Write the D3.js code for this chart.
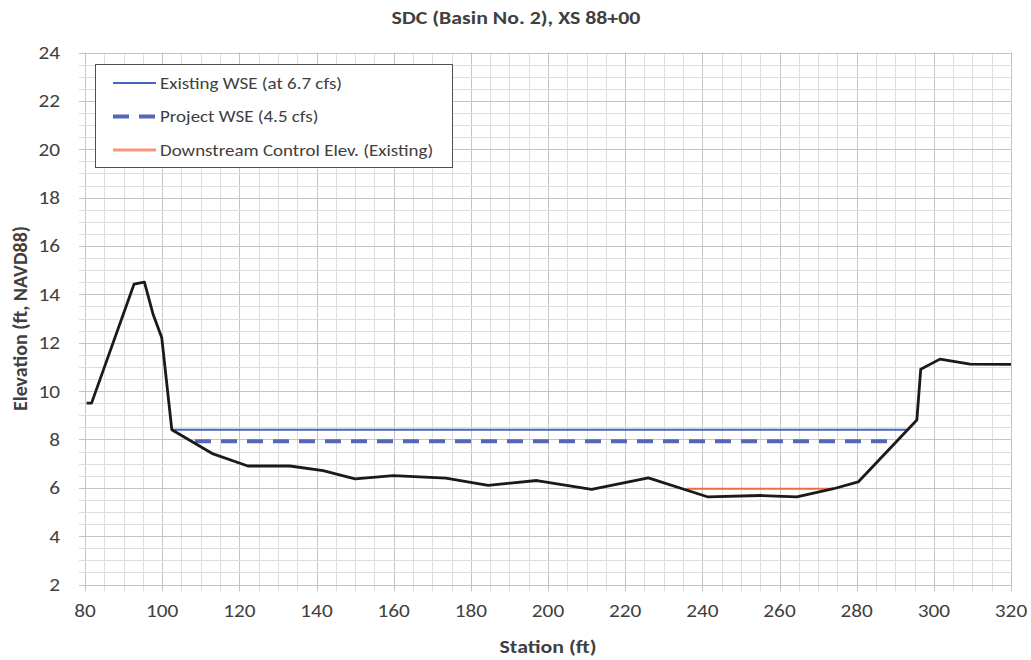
<!DOCTYPE html>
<html>
<head>
<meta charset="utf-8">
<script src="https://cdn.jsdelivr.net/npm/d3@7"></script>
<style>
  body { margin: 0; background: #fff; }
  svg text { font-family: Carlito, "Liberation Sans Narrow", "DejaVu Sans Condensed", "Liberation Sans", sans-serif; fill: #404040; }
</style>
</head>
<body>
<div id="chart"></div>
<script>
// ground profile
var groundStation = [80.4, 81.7, 92.7, 95.4, 97.6, 99.9, 102.5, 113.2, 122.2, 133.1, 141.7, 150.0, 159.9, 173.5, 184.5, 197.1, 211.3, 226.0, 241.5, 255.0, 264.5, 274.0, 280.4, 295.6, 296.6, 301.6, 309.4, 320.0];
var groundElev = [9.5, 9.5, 14.42, 14.5, 13.2, 12.2, 8.4, 7.4, 6.9, 6.9, 6.71, 6.37, 6.5, 6.4, 6.1, 6.3, 5.93, 6.41, 5.62, 5.68, 5.62, 5.96, 6.24, 8.8, 10.9, 11.32, 11.11, 11.1];

// water surface lines
var existingStation = [102.5, 293.0];
var existingElev = [8.4, 8.4];
var projectStation = [108.5, 288.6];
var projectElev = [7.92, 7.92];
var controlStation = [235.9, 273.8];
var controlElev = [5.96, 5.96];

var xTicks = [80, 100, 120, 140, 160, 180, 200, 220, 240, 260, 280, 300, 320];
var yTicks = [2, 4, 6, 8, 10, 12, 14, 16, 18, 20, 22, 24];

var legendLabels = ["Existing WSE (at 6.7 cfs)", "Project WSE (4.5 cfs)", "Downstream Control Elev. (Existing)"];

var W = 1031, H = 660;
var margin = { top: 52.5, right: 20, bottom: 76, left: 85 };
var stretch = 1.15; // the text in the picture is a bit wide

var svg = d3.select("#chart").append("svg")
  .attr("width", W)
  .attr("height", H);

var x = d3.scaleLinear().domain([80, 320]).range([margin.left, 1011]);
var y = d3.scaleLinear().domain([2, 24]).range([584.5, margin.top]);

// text helper, widened a little
function addText(parent, tx, ty, anchor, size, bold, str) {
  var t = parent.append("g")
    .attr("transform", "translate(" + tx + "," + ty + ") scale(" + stretch + ",1)")
    .append("text")
    .attr("text-anchor", anchor)
    .style("font-size", size + "px")
    .text(str);
  if (bold) t.style("font-weight", "bold");
  return t;
}

// grid
var g = svg.append("g");
g.selectAll("line.vminor")
  .data(d3.range(80, 320.1, 5))
  .enter().append("line")
  .attr("x1", function (d) { return Math.round(x(d)) + 0.5; })
  .attr("x2", function (d) { return Math.round(x(d)) + 0.5; })
  .attr("y1", y(24))
  .attr("y2", y(2) + 7)
  .attr("stroke", function (d) { return d % 20 === 0 ? "#c4c4c4" : "#dedede"; })
  .attr("stroke-width", 1);

g.selectAll("line.hminor")
  .data(d3.range(2, 24.01, 0.5))
  .enter().append("line")
  .attr("x1", x(80) - 6)
  .attr("x2", x(320))
  .attr("y1", function (d) { return Math.round(y(d)) + 0.5; })
  .attr("y2", function (d) { return Math.round(y(d)) + 0.5; })
  .attr("stroke", function (d) { return d % 2 === 0 ? "#c4c4c4" : "#dedede"; })
  .attr("stroke-width", 1);

// tick labels
var yl = svg.append("g");
yTicks.forEach(function (d) {
  addText(yl, 60, y(d), "end", 18.5, false, d).attr("dy", "0.35em");
});

var xl = svg.append("g");
xTicks.forEach(function (d) {
  addText(xl, x(d), 617, "middle", 18.5, false, d);
});

// titles
addText(svg, 516, 24, "middle", 19, true, "SDC (Basin No. 2), XS 88+00");
addText(svg, (x(80) + x(320)) / 2, 653, "middle", 19, true, "Station (ft)");

svg.append("text")
  .attr("transform", "translate(27," + (y(13)) + ") rotate(-90)")
  .attr("text-anchor", "middle")
  .style("font-size", "20px")
  .style("font-weight", "bold")
  .text("Elevation (ft, NAVD88)");

function pts(xs, ys) {
  return xs.map(function (v, i) { return [v, ys[i]]; });
}

var line = d3.line()
  .x(function (d) { return x(d[0]); })
  .y(function (d) { return y(d[1]); });

// series
svg.append("path")
  .attr("d", line(pts(existingStation, existingElev)))
  .attr("fill", "none")
  .attr("stroke", "#4466c0")
  .attr("stroke-width", 2);

svg.append("path")
  .attr("d", line(pts(projectStation, projectElev)))
  .attr("fill", "none")
  .attr("stroke", "#5565b8")
  .attr("stroke-width", 4)
  .attr("stroke-dasharray", "16,10");

svg.append("path")
  .attr("d", line(pts(controlStation, controlElev)))
  .attr("fill", "none")
  .attr("stroke", "#f26848")
  .attr("stroke-width", 2);

svg.append("path")
  .attr("d", line(pts(groundStation, groundElev)))
  .attr("fill", "none")
  .attr("stroke", "#1a1a1a")
  .attr("stroke-width", 2.8)
  .attr("stroke-linejoin", "round");

// legend
var legend = svg.append("g");
legend.append("rect")
  .attr("x", 95.5)
  .attr("y", 64.5)
  .attr("width", 357)
  .attr("height", 103)
  .attr("fill", "#fff")
  .attr("stroke", "#505050")
  .attr("stroke-width", 1);

var legendStyles = [
  { color: "#4466c0", width: 2, dash: null },
  { color: "#5565b8", width: 4, dash: "16,10" },
  { color: "#f6957c", width: 3, dash: null }
];

legendLabels.forEach(function (lab, i) {
  var ly = 83 + i * 33.5;
  legend.append("line")
    .attr("x1", 113).attr("x2", 156)
    .attr("y1", ly).attr("y2", ly)
    .attr("stroke", legendStyles[i].color)
    .attr("stroke-width", legendStyles[i].width)
    .attr("stroke-dasharray", legendStyles[i].dash);
  addText(legend, 160, ly, "start", 16.5, false, lab).attr("dy", "0.35em");
});
</script>
</body>
</html>
